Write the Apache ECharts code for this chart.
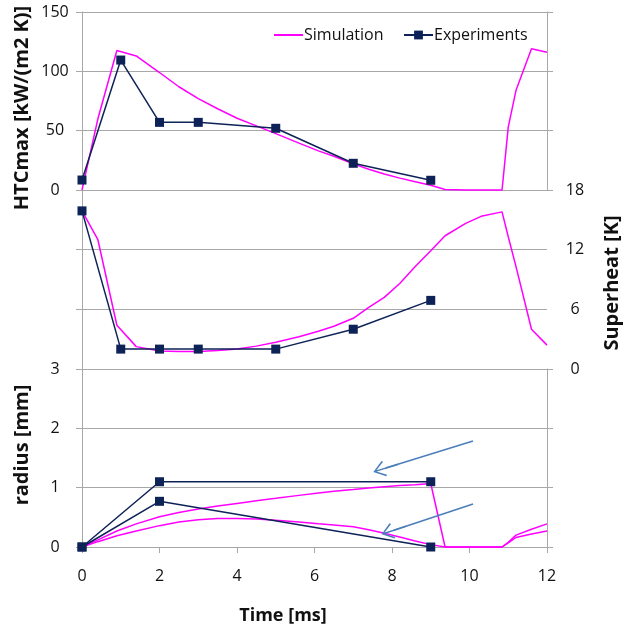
<!DOCTYPE html>
<html>
<head>
<meta charset="utf-8">
<script src="https://cdn.jsdelivr.net/npm/echarts@6/dist/echarts.min.js"></script>
<style>
  html, body { margin: 0; padding: 0; background: #fff; }
  #chart { width: 624px; height: 630px; }
</style>
</head>
<body>
<div id="chart"></div>
<script>
// simulation (magenta)
const simTime = [0, 0.41, 0.9, 1.4, 2, 2.5, 3, 3.5, 4, 4.5, 5, 5.6, 6.1, 6.5, 7, 7.4, 7.8, 8.2, 8.6, 9, 9.37, 9.9, 10.3, 10.84, 11.0, 11.2, 11.6, 12]
const simHTC = [0, 60, 117.5, 113, 99, 87, 77, 68.5, 60.5, 54, 47.5, 39.5, 33, 28.5, 22, 17.5, 13.5, 10, 7, 4, 0.5, 0, 0, 0, 53, 84, 119, 116]
const simSuperheat = [15.9, 13.0, 4.4, 2.25, 1.8, 1.75, 1.75, 1.85, 2.0, 2.3, 2.7, 3.25, 3.8, 4.3, 5.1, 6.2, 7.2, 8.6, 10.3, 11.9, 13.4, 14.65, 15.35, 15.8, 13.3, 10.3, 4.0, 2.4]
const simRadiusA = [0, 0.12, 0.27, 0.39, 0.51, 0.58, 0.64, 0.69, 0.735, 0.78, 0.82, 0.87, 0.91, 0.94, 0.97, 0.995, 1.015, 1.035, 1.05, 1.07, 0, 0, 0, 0, 0.08, 0.2, 0.3, 0.39]
const simRadiusB = [0, 0.09, 0.19, 0.27, 0.36, 0.42, 0.46, 0.48, 0.48, 0.47, 0.45, 0.42, 0.39, 0.37, 0.34, 0.29, 0.23, 0.17, 0.1, 0.04, 0, 0, 0, 0, 0.07, 0.16, 0.22, 0.27]

// experiments (navy squares)
const expTime = [0, 1, 2, 3, 5, 7, 9]
const expHTC = [8.4, 109.5, 57, 57, 52, 22.5, 8.2]
const expSuperheat = [15.9, 2.0, 2.0, 2.0, 2.0, 4.0, 6.9]
const expRadiusTime = [0, 2, 9]
const expRadiusA = [0, 1.1, 1.1]
const expRadiusB = [0, 0.77, 0]

// annotation arrows in the radius panel: [fromX, fromY, toX, toY]
const arrowNotes = [
  [10.09, 1.785, 7.84, 1.33],
  [10.09, 0.724, 8.05, 0.283]
]

const MAGENTA = '#ff00ff'
const NAVY = '#0d2257'
const GRID_GRAY = '#a8a8a8'
const FONT = 'Open Sans'

const zip = (xs, ys) => xs.map((x, i) => [x, ys[i]])

const chart = echarts.init(document.getElementById('chart'))

const makeY = (gridIndex, position, min, max, interval, showLabel) => ({
  type: 'value',
  gridIndex,
  position,
  min,
  max,
  interval,
  axisLine: { show: true, lineStyle: { color: GRID_GRAY, width: 1 } },
  axisTick: { show: true, length: 6, lineStyle: { color: GRID_GRAY } },
  splitLine: { show: true, lineStyle: { color: GRID_GRAY, width: 1 } },
  axisLabel: {
    show: showLabel,
    color: '#111',
    fontFamily: FONT,
    fontSize: 16,
    align: 'center',
    margin: position === 'left' ? 27 : 28
  }
})

const makeX = (gridIndex, show) => ({
  type: 'value',
  gridIndex,
  min: 0,
  max: 12,
  interval: 2,
  show,
  axisLine: { show: true, onZero: false, lineStyle: { color: GRID_GRAY } },
  axisTick: { show: true, length: 6, lineStyle: { color: GRID_GRAY } },
  splitLine: { show: false },
  axisLabel: { color: '#111', fontFamily: FONT, fontSize: 16, margin: 21 }
})

const simLine = (xi, yi, data) => ({
  name: 'Simulation',
  type: 'line',
  xAxisIndex: xi,
  yAxisIndex: yi,
  data,
  showSymbol: false,
  symbol: 'none',
  clip: false,
  lineStyle: { color: MAGENTA, width: 1.5 },
  itemStyle: { color: MAGENTA },
  animation: false
})

const expLine = (xi, yi, data) => ({
  name: 'Experiments',
  type: 'line',
  xAxisIndex: xi,
  yAxisIndex: yi,
  data,
  symbol: 'rect',
  symbolSize: 9,
  clip: false,
  lineStyle: { color: NAVY, width: 1.5 },
  itemStyle: { color: NAVY },
  animation: false
})

// open arrow head with a short shaft, so the line end sits at the symbol centre
const arrowHead = 'path://M8,0 L16,11 L14.8,12.2 L8,2.4 L1.2,12.2 L0,11 Z M7.3,1 L8.7,1 L8.7,26 L7.3,26 Z'

const titleText = (text, x, y, rotate, size) => ({
  type: 'text',
  x,
  y,
  rotation: rotate ? Math.PI / 2 : 0,
  style: {
    text,
    x: 0,
    y: 0,
    fill: '#111',
    font: 'bold ' + size + 'px "Open Sans"',
    textAlign: 'center',
    textVerticalAlign: 'middle'
  }
})

const radiusB = expLine(2, 4, zip(expRadiusTime, expRadiusB))
radiusB.markLine = {
  silent: true,
  animation: false,
  symbol: ['none', arrowHead],
  symbolSize: [16, 26],
  label: { show: false },
  lineStyle: { color: '#4a7ebb', type: 'solid', width: 1.5 },
  data: arrowNotes.map(a => [{ coord: [a[0], a[1]] }, { coord: [a[2], a[3]] }])
}

const legendBase = {
  top: 22,
  itemWidth: 29,
  itemHeight: 11,
  textStyle: { fontFamily: FONT, fontSize: 16, color: '#111', padding: [0, 0, 0, -4] }
}

const option = {
  backgroundColor: '#fff',
  animation: false,
  legend: [
    Object.assign({}, legendBase, {
      data: [{ name: 'Simulation', itemStyle: { color: 'transparent', borderColor: 'transparent' } }],
      left: 268
    }),
    Object.assign({}, legendBase, { data: ['Experiments'], left: 398 })
  ],
  grid: [
    { left: 82, right: 77, top: 12, height: 178 },
    { left: 82, right: 77, top: 190, height: 179 },
    { left: 82, right: 77, top: 369, height: 178 }
  ],
  xAxis: [makeX(0, false), makeX(1, false), makeX(2, true)],
  yAxis: [
    makeY(0, 'left', 0, 150, 50, true),
    makeY(0, 'right', 0, 150, 50, false),
    makeY(1, 'right', 0, 18, 6, true),
    makeY(1, 'left', 0, 18, 6, false),
    makeY(2, 'left', 0, 3, 1, true),
    makeY(2, 'right', 0, 3, 1, false)
  ],
  graphic: [
    titleText('HTCmax [kW/(m2 K)]', 22, 108, true, 20),
    titleText('radius [mm]', 22, 445, true, 20),
    titleText('Superheat [K]', 612, 283, true, 20),
    titleText('Time [ms]', 283, 616, false, 18)
  ],
  series: [
    simLine(0, 0, zip(simTime, simHTC)),
    simLine(1, 2, zip(simTime, simSuperheat)),
    simLine(2, 4, zip(simTime, simRadiusA)),
    simLine(2, 4, zip(simTime, simRadiusB)),
    expLine(0, 0, zip(expTime, expHTC)),
    expLine(1, 2, zip(expTime, expSuperheat)),
    expLine(2, 4, zip(expRadiusTime, expRadiusA)),
    radiusB
  ]
}

chart.setOption(option)
</script>
</body>
</html>
